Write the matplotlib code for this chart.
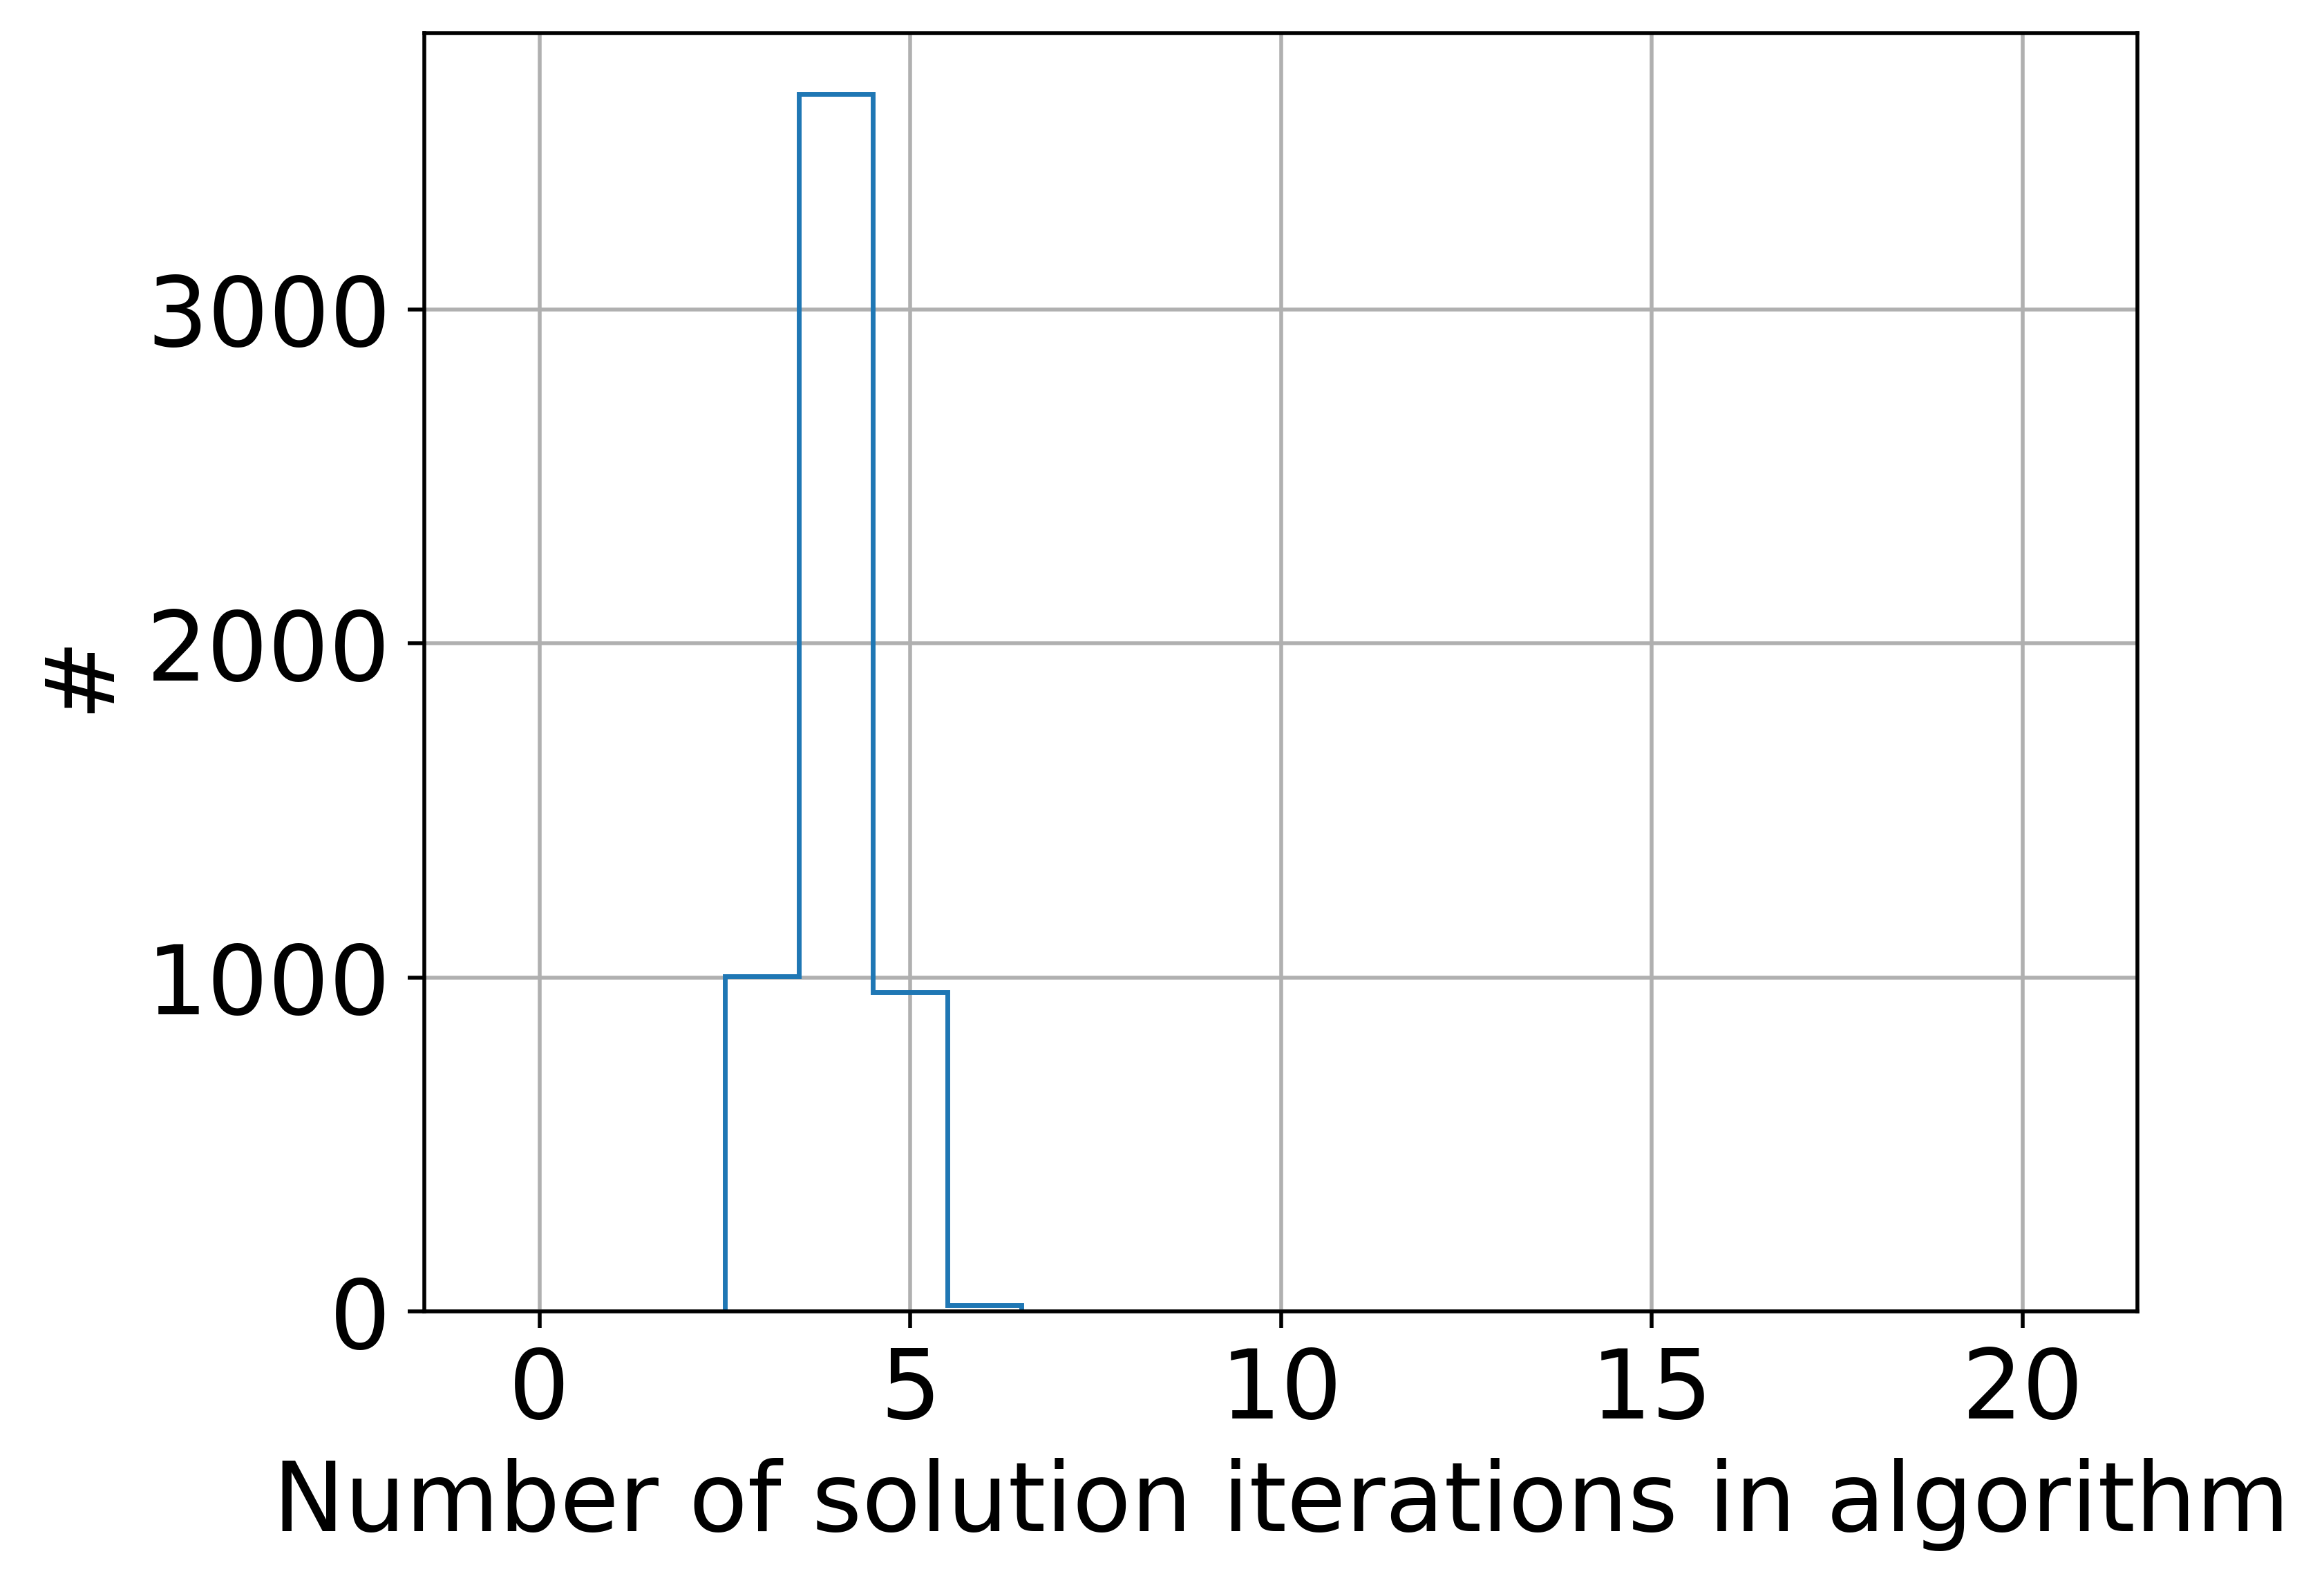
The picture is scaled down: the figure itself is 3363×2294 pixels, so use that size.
import numpy as np
import matplotlib
matplotlib.use("Agg")
import matplotlib.pyplot as plt

# Histograma de iteraciones del algoritmo
iteraciones = [3, 4, 5, 6]
conteos = [1003, 3645, 957, 19]
bordes = np.array(iteraciones[:1] + [i + 1 for i in iteraciones]) - 0.5
limite_x = (-0.5, 20.5)

plt.rcParams['font.size'] = 20

fig = plt.figure(figsize=(3363.4 / 500, 2294.4 / 500), dpi=500)
ax = fig.add_axes([0.1826, 0.1724, 0.9197 - 0.1826, 0.9790 - 0.1724])

ax.hist(iteraciones, bins=bordes, weights=conteos, histtype='step', linewidth=1.0)

# margen del 5% como en el autoscale por defecto
ancho = limite_x[1] - limite_x[0]
ax.set_xlim(limite_x[0] - 0.05 * ancho, limite_x[1] + 0.05 * ancho)
ax.set_ylim(0, max(conteos) * 1.05)
ax.set_xticks([0, 5, 10, 15, 20])
ax.set_yticks([0, 1000, 2000, 3000])
ax.grid(True)
ax.set_axisbelow(True)

ax.set_xlabel('Number of solution iterations in algorithm')
ax.set_ylabel('#')

fig.savefig('out.png', dpi=500)
